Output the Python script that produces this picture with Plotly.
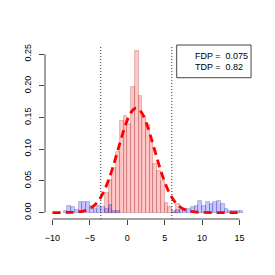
import plotly.graph_objects as go

# ---- data ----
bin_width = 0.5

pink_left = [-3.0, -2.5, -2.0, -1.5, -1.0, -0.5, 0.0, 0.5, 1.0, 1.5,
             2.0, 2.5, 3.0, 3.5, 4.0, 4.5, 5.0, 5.5, 6.0, 6.5]
pink_density = [0.031, 0.052, 0.070, 0.095, 0.144, 0.153, 0.140, 0.198, 0.255, 0.184,
                0.153, 0.138, 0.114, 0.076, 0.065, 0.049, 0.015, 0.008, 0.000, 0.014]

blue_left = [-8.5, -8.0, -7.5, -7.0, -6.5, -6.0, -5.5, -5.0, -4.5, -4.0,
             -3.5, -3.0, -2.5, -2.0, -1.5,
             6.0, 6.5, 7.0, 7.5, 8.0, 8.5, 9.0, 9.5, 10.0, 10.5,
             11.0, 11.5, 12.0, 12.5, 13.0, 13.5, 14.0, 14.5, 15.0]
blue_density = [0.002, 0.010, 0.008, 0.004, 0.016, 0.016, 0.016, 0.011, 0.006, 0.010,
                0.008, 0.006, 0.012, 0.003, 0.002,
                0.003, 0.004, 0.004, 0.005, 0.006, 0.008, 0.011, 0.018, 0.010, 0.016,
                0.014, 0.016, 0.018, 0.013, 0.006, 0.003, 0.003, 0.002, 0.002]

curve_x = [-10, -8, -7, -6, -5.5, -5, -4.5, -4, -3.5, -3, -2.5, -2, -1.5, -1, -0.5,
           0, 0.5, 1, 1.5, 2, 2.5, 3, 3.5, 4, 4.5, 5, 5.5, 6, 6.5, 7, 7.5, 8,
           9, 10, 12, 15]
curve_y = [0.0000, 0.0001, 0.0005, 0.0020, 0.0036, 0.0062, 0.0103, 0.0164, 0.0250,
           0.0366, 0.0512, 0.0688, 0.0885, 0.1091, 0.1288, 0.1458, 0.1581, 0.1643,
           0.1636, 0.1561, 0.1428, 0.1250, 0.1050, 0.0844, 0.0651, 0.0481, 0.0340,
           0.0231, 0.0150, 0.0093, 0.0056, 0.0032, 0.0009, 0.0002, 0.0000, 0.0000]

cutoffs = [-3.55, 5.95]
x_ticks = [-10, -5, 0, 5, 10, 15]
y_ticks = [0.00, 0.05, 0.10, 0.15, 0.20, 0.25]
legend_lines = ["FDP =\u00a0\u00a00.075", "TDP =\u00a0\u00a00.82"]

# ---- figure ----
fig = go.Figure()
fig.add_trace(go.Bar(
    x=[v + bin_width / 2 for v in pink_left], y=pink_density, width=bin_width,
    marker=dict(color="rgba(255,0,0,0.22)",
                line=dict(color="rgba(150,40,40,0.35)", width=0.8)),
    showlegend=False, hoverinfo="skip"))
fig.add_trace(go.Bar(
    x=[v + bin_width / 2 for v in blue_left], y=blue_density, width=bin_width,
    marker=dict(color="rgba(0,0,255,0.22)",
                line=dict(color="rgba(40,40,150,0.35)", width=0.8)),
    showlegend=False, hoverinfo="skip"))
fig.add_trace(go.Scatter(
    x=curve_x, y=curve_y, mode="lines", line_shape="spline",
    line=dict(color="#ff0000", width=2.8, dash="8px,5px"),
    showlegend=False, hoverinfo="skip"))

font = "Liberation Sans, Arial, sans-serif"

for c in cutoffs:
    fig.add_shape(type="line", xref="x", yref="paper", x0=c, x1=c, y0=0, y1=1,
                  line=dict(color="#333333", width=1, dash="1px,2px"))

# R-style axis lines spanning the tick range only
fig.add_shape(type="line", xref="x", yref="paper", x0=x_ticks[0], x1=x_ticks[-1],
              y0=0, y1=0, line=dict(color="#444", width=1))
fig.add_shape(type="line", xref="paper", yref="y", x0=0, x1=0,
              y0=y_ticks[0], y1=y_ticks[-1], line=dict(color="#444", width=1))

# legend box
fig.add_shape(type="rect", xref="paper", yref="paper", x0=0.652, x1=1.02,
              y0=0.812, y1=1.0, line=dict(color="#444", width=1),
              fillcolor="white")
for i, t in enumerate(legend_lines):
    fig.add_annotation(xref="paper", yref="paper", x=0.734, y=[0.9385, 0.875][i],
                       text=t, showarrow=False, xanchor="left", yanchor="middle",
                       font=dict(family=font, size=9, color="#000"))

# page body has an 8px default margin, so the figure is offset by 8px
fig.update_layout(
    width=275, height=275,
    margin=dict(l=37, r=36, t=37, b=64, autoexpand=False),
    paper_bgcolor="white", plot_bgcolor="white",
    barmode="overlay", bargap=0,
    font=dict(family=font, size=9, color="#000"),
    xaxis=dict(range=[-11, 16], tickvals=x_ticks, showgrid=False, zeroline=False,
               showline=False, ticks="outside", ticklen=5, tickcolor="#444",
               tickwidth=1, ticklabelstandoff=5, tickfont=dict(size=9),
               automargin=False),
    yaxis=dict(range=[-0.0102, 0.2644], tickvals=y_ticks, tickformat=".2f",
               showgrid=False, zeroline=False, showline=False, ticks="outside",
               ticklen=5, tickcolor="#444", tickwidth=1, tickangle=-90,
               ticklabelstandoff=4, tickfont=dict(size=9), automargin=False),
)

fig.write_html("out.html")
